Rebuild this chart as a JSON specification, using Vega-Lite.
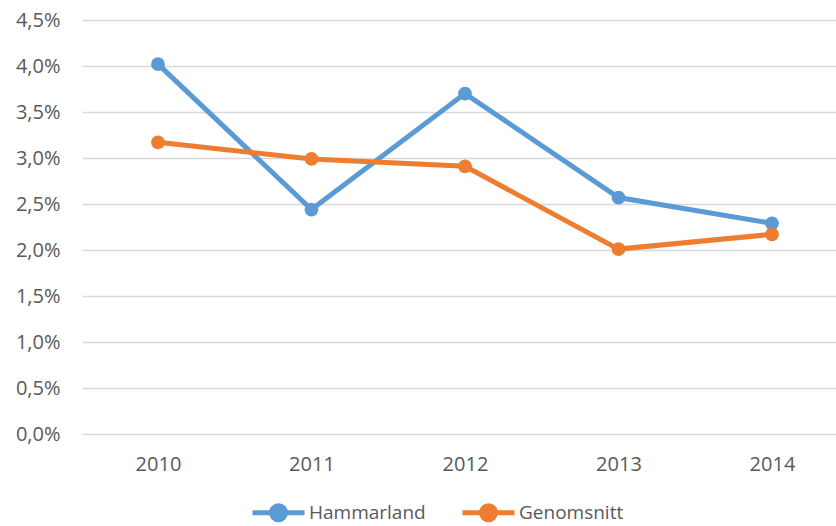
{
  "$schema": "https://vega.github.io/schema/vega-lite/v6.json",
  "width": 754,
  "height": 414,
  "autosize": {"type": "none"},
  "padding": {"left": 82, "top": 20, "right": 0, "bottom": 92},
  "background": "white",
  "config": {
    "view": {"stroke": null},
    "font": "Open Sans",
    "axis": {"labelFont": "Open Sans", "labelColor": "#595959", "labelFontSize": 20}
  },
  "data": {
    "values": [
      {"year": 2010, "series": "Hammarland", "value": 0.0402},
      {"year": 2011, "series": "Hammarland", "value": 0.0244},
      {"year": 2012, "series": "Hammarland", "value": 0.0370},
      {"year": 2013, "series": "Hammarland", "value": 0.0257},
      {"year": 2014, "series": "Hammarland", "value": 0.0229},
      {"year": 2010, "series": "Genomsnitt", "value": 0.0317},
      {"year": 2011, "series": "Genomsnitt", "value": 0.0299},
      {"year": 2012, "series": "Genomsnitt", "value": 0.0291},
      {"year": 2013, "series": "Genomsnitt", "value": 0.0201},
      {"year": 2014, "series": "Genomsnitt", "value": 0.0217}
    ]
  },
  "mark": {"type": "line", "strokeWidth": 5, "point": {"filled": true, "size": 190, "opacity": 1}},
  "encoding": {
    "x": {
      "field": "year", "type": "quantitative",
      "scale": {"domain": [2009.505, 2014.417], "nice": false, "zero": false},
      "axis": {"title": null, "values": [2010, 2011, 2012, 2013, 2014], "format": "d", "labelAngle": 0, "domain": false, "ticks": false, "grid": false, "labelPadding": 20}
    },
    "y": {
      "field": "value", "type": "quantitative",
      "scale": {"domain": [0, 0.045], "nice": false},
      "axis": {
        "title": null, "values": [0, 0.005, 0.01, 0.015, 0.02, 0.025, 0.03, 0.035, 0.04, 0.045],
        "labelExpr": "replace(format(datum.value, '.1%'), '.', ',')",
        "domain": false, "ticks": false, "gridColor": "#D9D9D9", "gridWidth": 1.3, "labelPadding": 22
      }
    },
    "color": {
      "field": "series", "type": "nominal",
      "scale": {"domain": ["Hammarland", "Genomsnitt"], "range": ["#5B9BD5", "#ED7D31"]},
      "legend": {
        "title": null, "orient": "none", "direction": "horizontal",
        "legendX": 168, "legendY": 464,
        "symbolType": "M-1,0L1,0M0.27,0A0.27,0.27,0,1,1,-0.27,0A0.27,0.27,0,1,1,0.27,0Z",
        "symbolSize": 2704, "symbolStrokeWidth": 5,
        "labelFontSize": 19, "labelColor": "#595959", "labelFont": "Open Sans",
        "labelOffset": 2, "columnPadding": 26,
        "encode": {"symbols": {"update": {"fill": {"scale": "color", "field": "value"}, "stroke": {"scale": "color", "field": "value"}, "opacity": {"value": 1}}}}
      }
    }
  }
}
